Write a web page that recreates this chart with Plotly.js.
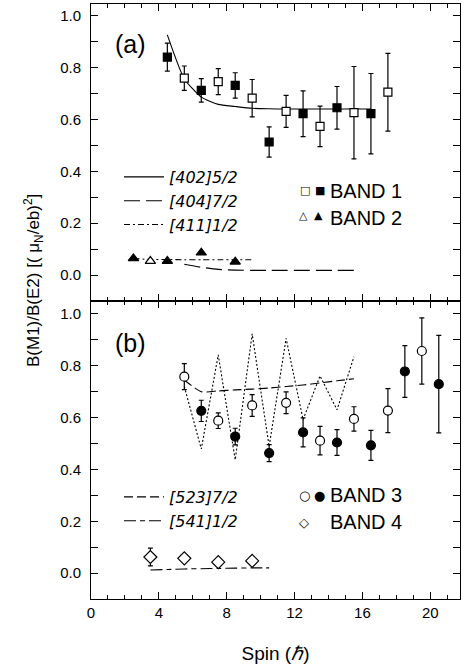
<!DOCTYPE html>
<html>
<head>
<meta charset="utf-8">
<script src="https://cdn.plot.ly/plotly-3.0.1.min.js"></script>
<style>html,body{margin:0;padding:0;background:#fff;}#chart{width:464px;height:666px;}</style>
</head>
<body>
<div id="chart"></div>
<script>
// ---------- Panel (a) data ----------
const band1OpenSpin = [5.5, 7.5, 9.5, 11.5, 13.5, 15.5, 17.5];
const band1OpenVal  = [0.759, 0.746, 0.682, 0.631, 0.573, 0.626, 0.705];
const band1OpenErr  = [0.047, 0.050, 0.072, 0.062, 0.078, 0.178, 0.150];
const band1FillSpin = [4.5, 6.5, 8.5, 10.5, 12.5, 14.5, 16.5];
const band1FillVal  = [0.840, 0.712, 0.731, 0.513, 0.622, 0.645, 0.622];
const band1FillErr  = [0.054, 0.045, 0.049, 0.058, 0.088, 0.082, 0.155];

const band2OpenSpin = [3.5];
const band2OpenVal  = [0.054];
const band2FillSpin = [2.5, 4.5, 6.5, 8.5];
const band2FillVal  = [0.064, 0.054, 0.086, 0.051];

const calc402Spin = [4.5, 5.5, 6.5, 7.5, 8.5, 9.5, 10.5, 11.5, 12.5, 13.5, 14.5, 15.5, 16.5];
const calc402Val  = [0.926, 0.757, 0.686, 0.658, 0.650, 0.643, 0.641, 0.640, 0.640, 0.640, 0.640, 0.640, 0.640];
const calc404Spin = [5.5, 6.5, 7.5, 8.5, 9.5, 10.5, 11.5, 12.5, 13.5, 14.5, 15.5];
const calc404Val  = [0.042, 0.030, 0.022, 0.019, 0.018, 0.018, 0.018, 0.018, 0.018, 0.018, 0.018];
const calc411Spin = [2.5, 3.5, 4.5, 5.5, 6.5, 7.5, 8.5, 9.5];
const calc411Val  = [0.064, 0.060, 0.060, 0.059, 0.059, 0.059, 0.059, 0.059];

// ---------- Panel (b) data ----------
const band3OpenSpin = [5.5, 7.5, 9.5, 11.5, 13.5, 15.5, 17.5, 19.5];
const band3OpenVal  = [0.758, 0.588, 0.647, 0.657, 0.511, 0.595, 0.627, 0.857];
const band3OpenErr  = [0.050, 0.030, 0.042, 0.042, 0.055, 0.047, 0.085, 0.128];
const band3FillSpin = [6.5, 8.5, 10.5, 12.5, 14.5, 16.5, 18.5, 20.5];
const band3FillVal  = [0.626, 0.527, 0.463, 0.543, 0.504, 0.493, 0.778, 0.729];
const band3FillErr  = [0.041, 0.032, 0.033, 0.056, 0.050, 0.058, 0.100, 0.188];

const band4Spin = [3.5, 5.5, 7.5, 9.5];
const band4Val  = [0.062, 0.057, 0.042, 0.047];
const band4Err  = [0.034, 0, 0, 0];

const zigzagSpin = [5.5, 6.5, 7.5, 8.5, 9.5, 10.5, 11.5, 12.5, 13.5, 14.5, 15.5];
const zigzagVal  = [0.720, 0.479, 0.842, 0.437, 0.923, 0.489, 0.906, 0.592, 0.761, 0.630, 0.835];
const calc523Spin = [5.5, 6.5, 7.5, 8.5, 9.5, 10.5, 11.5, 12.5, 13.5, 14.5, 15.5];
const calc523Val  = [0.745, 0.700, 0.703, 0.707, 0.710, 0.714, 0.720, 0.726, 0.734, 0.742, 0.750];
const calc541Spin = [3.5, 4.5, 5.5, 6.5, 7.5, 8.5, 9.5, 10.5];
const calc541Val  = [0.012, 0.014, 0.016, 0.017, 0.018, 0.019, 0.020, 0.020];

// ---------- labels ----------
const legendTopNames = ['[402]5/2', '[404]7/2', '[411]1/2'];
const legendBotNames = ['[523]7/2', '[541]1/2'];
const bandNames = ['BAND 1', 'BAND 2', 'BAND 3', 'BAND 4'];
const xTickVals = [0, 4, 8, 12, 16, 20];

const FONT = 'Liberation Sans, Arial, Helvetica, sans-serif';
const LEGFONT = 'DejaVu Sans, sans-serif';

function pts(x, y, err, symbol, filled, xa, ya, size) {
  const t = {
    x: x, y: y, type: 'scatter', mode: 'markers', showlegend: false,
    xaxis: xa, yaxis: ya, hoverinfo: 'x+y',
    marker: { symbol: symbol, size: size || 8, color: filled ? 'black' : 'white',
              line: { color: 'black', width: 1.2 } }
  };
  if (err) t.error_y = { type: 'data', array: err, visible: true, color: 'black', thickness: 1.2, width: 2.5 };
  return t;
}
function curve(x, y, name, dash, xa, ya, legend, shape) {
  return {
    x: x, y: y, type: 'scatter', mode: 'lines', name: name,
    showlegend: !!legend, legend: legend || 'legend',
    xaxis: xa, yaxis: ya, hoverinfo: 'x+y',
    line: { color: 'black', width: 1.1, dash: dash, shape: shape || 'spline', smoothing: 0.6 }
  };
}

const traces = [
  curve(calc402Spin, calc402Val, '<i>' + legendTopNames[0] + '</i>', 'solid', 'x', 'y', 'legend'),
  curve(calc404Spin, calc404Val, '<i>' + legendTopNames[1] + '</i>', '16px,6px', 'x', 'y', 'legend'),
  curve(calc411Spin, calc411Val, '<i>' + legendTopNames[2] + '</i>', '6px,3px,2px,3px', 'x', 'y', 'legend'),
  pts(band1OpenSpin, band1OpenVal, band1OpenErr, 'square', false, 'x', 'y', 8),
  pts(band1FillSpin, band1FillVal, band1FillErr, 'square', true, 'x', 'y', 8),
  pts(band2OpenSpin, band2OpenVal, null, 'triangle-up', false, 'x', 'y', 9),
  pts(band2FillSpin, band2FillVal, null, 'triangle-up', true, 'x', 'y', 9),

  curve(zigzagSpin, zigzagVal, 'zigzag', '2px,2px', 'x2', 'y2', null, 'linear'),
  curve(calc523Spin, calc523Val, '<i>' + legendBotNames[0] + '</i>', '9px,4px', 'x2', 'y2', 'legend2'),
  curve(calc541Spin, calc541Val, '<i>' + legendBotNames[1] + '</i>', '12px,4px,5px,4px', 'x2', 'y2', 'legend2'),
  pts(band3OpenSpin, band3OpenVal, band3OpenErr, 'circle', false, 'x2', 'y2', 9),
  pts(band3FillSpin, band3FillVal, band3FillErr, 'circle', true, 'x2', 'y2', 9),
  pts(band4Spin, band4Val, band4Err, 'diamond', false, 'x2', 'y2', 10)
];

const W = 464, H = 666, L = 91, R = 4, T = 4, B = 67;
const px = v => (v - L) / (W - L - R);
const py = v => (H - B - v) / (H - T - B);
const split = py(301);

const xCommon = {
  range: [0, 21.75], showline: true, linecolor: 'black', linewidth: 1, mirror: 'allticks',
  ticks: 'inside', ticklen: 7, tickwidth: 1, tickcolor: 'black',
  tickmode: 'array', tickvals: xTickVals,
  minor: { dtick: 1, ticks: 'inside', ticklen: 4, tickcolor: 'black' },
  showgrid: false, zeroline: false, fixedrange: true,
  tickfont: { family: FONT, size: 15, color: 'black' }
};
const yCommon = {
  showline: true, linecolor: 'black', linewidth: 1, mirror: 'allticks',
  ticks: 'inside', ticklen: 7, tickwidth: 1, tickcolor: 'black',
  dtick: 0.2, tick0: 0, tickformat: '.1f',
  minor: { dtick: 0.1, ticks: 'inside', ticklen: 7, tickcolor: 'black' },
  showgrid: false, zeroline: false, fixedrange: true,
  ticklabelstandoff: 6,
  tickfont: { family: FONT, size: 15, color: 'black' }
};

function ann(text, xpix, ypix, size, extra) {
  return Object.assign({
    xref: 'paper', yref: 'paper', x: px(xpix), y: py(ypix),
    xanchor: 'left', yanchor: 'middle', showarrow: false, text: text,
    font: { family: FONT, size: size, color: 'black' }
  }, extra || {});
}
const SYM = 'DejaVu Sans, sans-serif';

const legendCommon = {
  xanchor: 'left', yanchor: 'top',
  bgcolor: 'rgba(0,0,0,0)', borderwidth: 0, itemwidth: 40, tracegroupgap: 0,
  font: { family: LEGFONT, size: 16, color: 'black' }, itemclick: false, itemdoubleclick: false
};

const layout = {
  width: W, height: H,
  margin: { l: L, r: R, t: T, b: B },
  paper_bgcolor: 'white', plot_bgcolor: 'white',
  font: { family: FONT, color: 'black' },
  xaxis: Object.assign({}, xCommon, { anchor: 'y', showticklabels: false }),
  yaxis: Object.assign({}, yCommon, { domain: [split, 1], range: [-0.1, 1.045], anchor: 'x' }),
  xaxis2: Object.assign({}, xCommon, { anchor: 'y2',
    title: { text: 'Spin (<i>ℏ</i>)', font: { family: FONT, size: 19, color: 'black' }, standoff: 26 } }),
  yaxis2: Object.assign({}, yCommon, { domain: [0, split], range: [-0.1, 1.05], anchor: 'x2' }),
  legend: Object.assign({}, legendCommon, { x: px(119), y: py(160) }),
  legend2: Object.assign({}, legendCommon, { x: px(119), y: py(480) }),
  annotations: [
    ann('(a)', 113, 44, 25),
    ann('(b)', 113, 343, 25),
    ann('□', 298, 190, 11, { font: { family: SYM, size: 11, color: 'black' } }),
    ann('■', 313, 190, 11, { font: { family: SYM, size: 11, color: 'black' } }),
    ann(bandNames[0], 328, 191, 20),
    ann('△', 297, 216, 11, { font: { family: SYM, size: 11, color: 'black' } }),
    ann('▲', 312, 216, 11, { font: { family: SYM, size: 11, color: 'black' } }),
    ann(bandNames[1], 328, 218, 20),
    ann('○', 297, 495, 13, { font: { family: SYM, size: 13, color: 'black' } }),
    ann('●', 312, 495, 13, { font: { family: SYM, size: 13, color: 'black' } }),
    ann(bandNames[2], 328, 495, 20),
    ann('◇', 297, 522, 13, { font: { family: SYM, size: 13, color: 'black' } }),
    ann(bandNames[3], 328, 522, 20),
    {
      xref: 'paper', yref: 'paper', x: px(33), y: py(281), xanchor: 'center', yanchor: 'middle',
      textangle: -90, showarrow: false,
      text: 'B(M1)/B(E2) [( μ<sub>N</sub>/eb)<sup>2</sup>]',
      font: { family: FONT, size: 17, color: 'black' }
    }
  ]
};

Plotly.newPlot('chart', traces, layout, { staticPlot: true, displayModeBar: false });
</script>
</body>
</html>
